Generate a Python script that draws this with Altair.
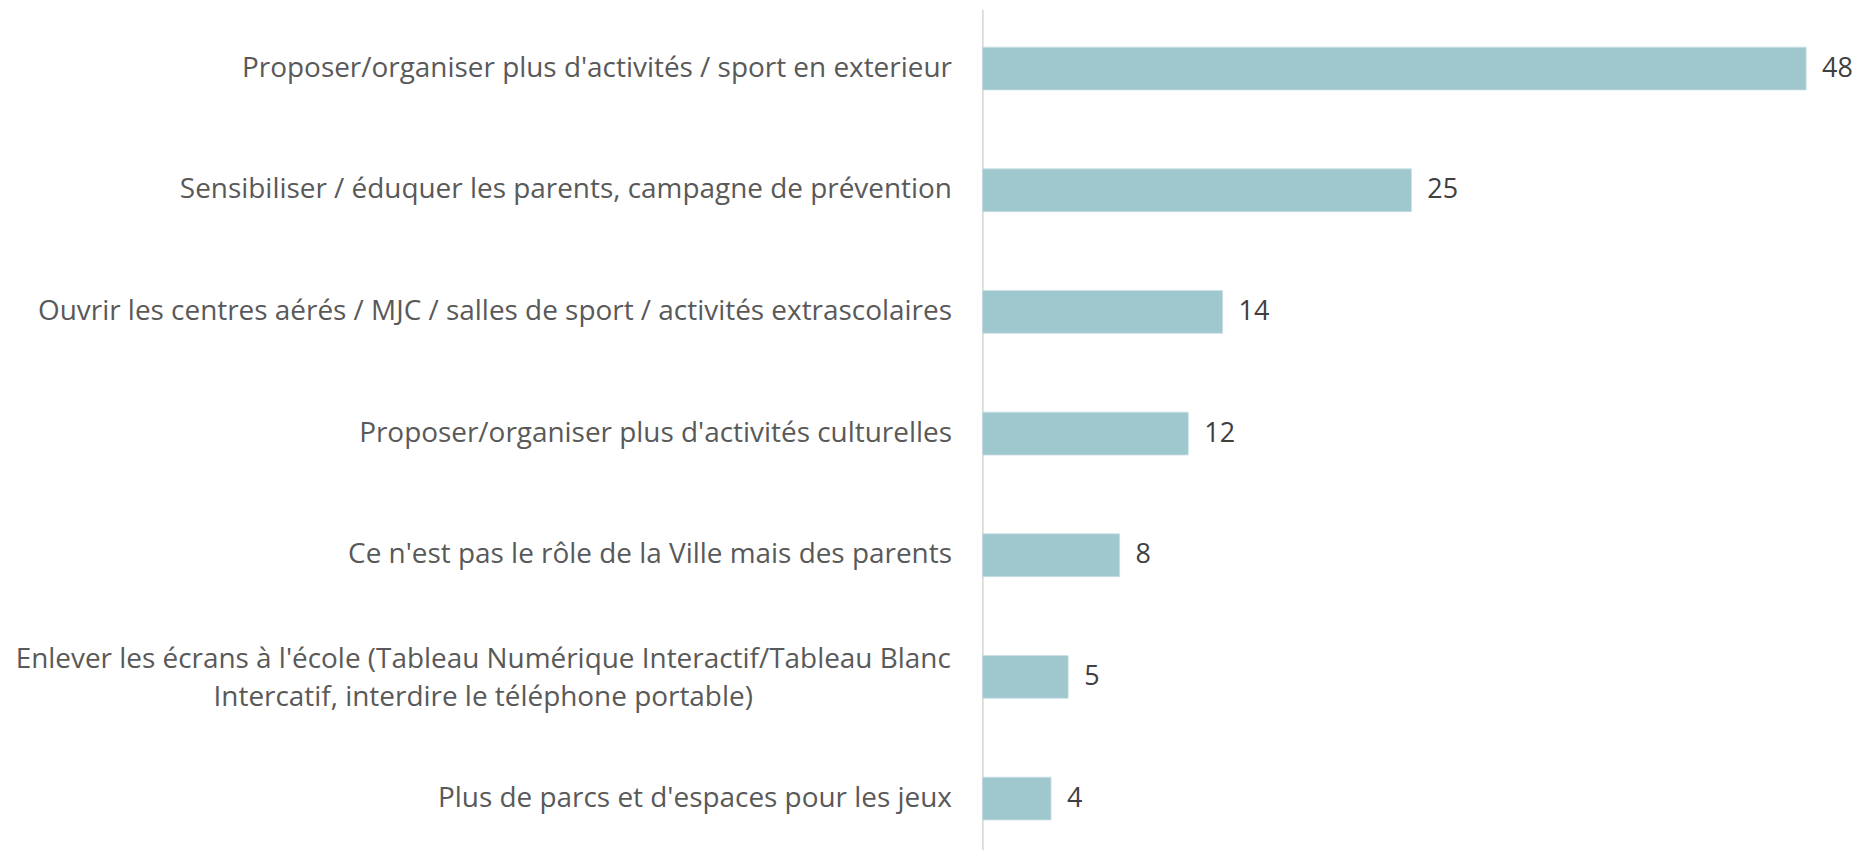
import altair as alt
import pandas as pd

categories = [
    "Proposer/organiser plus d'activités / sport en exterieur",
    "Sensibiliser / éduquer les parents, campagne de prévention",
    "Ouvrir les centres aérés / MJC / salles de sport / activités extrascolaires",
    "Proposer/organiser plus d'activités culturelles",
    "Ce n'est pas le rôle de la Ville mais des parents",
    "Enlever les écrans à l'école (Tableau Numérique Interactif/Tableau Blanc|Intercatif, interdire le téléphone portable)",
    "Plus de parcs et d'espaces pour les jeux",
]
values = [48, 25, 14, 12, 8, 5, 4]

df = pd.DataFrame({"cat": categories, "val": values})

FONT = "Open Sans"
MULTI = "indexof(datum.value, '|') >= 0"

y = alt.Y(
    "cat:N",
    sort=categories,
    title=None,
    scale=alt.Scale(paddingInner=0.648, paddingOuter=0.279, align=0.56),
    axis=alt.Axis(
        ticks=False,
        labelPadding={"condition": {"test": MULTI, "value": 501}, "value": 31},
        labelOffset={"condition": {"test": MULTI, "value": -17}, "value": 0},
        labelFont=FONT,
        labelFontSize=28,
        labelColor="#595959",
        labelLimit=2000,
        labelLineHeight=38,
        labelExpr="split(datum.label, '|')",
        labelAlign={"condition": {"test": MULTI, "value": "center"}, "value": "right"},
        domainColor="#d9d9d9",
        domainWidth=1.7,
    ),
)

x = alt.X(
    "val:Q",
    title=None,
    scale=alt.Scale(domain=[0, 48], nice=False, zero=True),
    axis=None,
)

bars = alt.Chart(df).mark_bar(color="#9fc7ce", stroke="#c9e0e4", strokeWidth=0.8).encode(x=x, y=y)

labels = alt.Chart(df).mark_text(
    align="left", baseline="middle", dx=16, font=FONT, fontSize=27, color="#404040"
).encode(x=x, y=y, text="val:Q")

chart = (
    alt.layer(bars, labels)
    .properties(
        width=826,
        height=843,
        background="white",
        autosize=alt.AutoSizeParams(type="none"),
        padding={"left": 977, "top": 0, "right": 48, "bottom": 0},
    )
    .configure_view(stroke=None)
)

chart.save("out.html", embed_options={"renderer": "svg", "actions": False})
